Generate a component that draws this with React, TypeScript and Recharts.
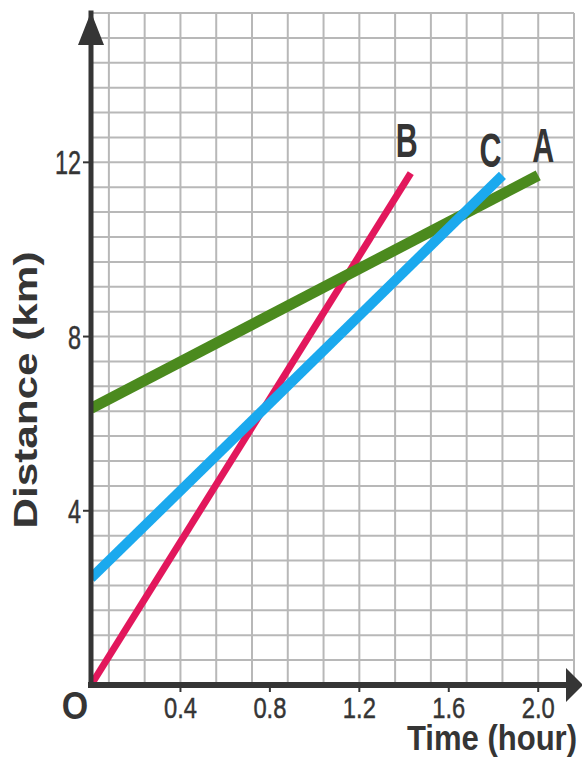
import React from "react";
import { LineChart, Line, XAxis, YAxis, CartesianGrid, ReferenceDot } from "recharts";

// values
const timeA = [0, 2.0];
const distA = [6.35, 11.7];
const timeB = [0, 1.43];
const distB = [0, 11.75];
const timeC = [0, 1.84];
const distC = [2.45, 11.7];

const xTicks = [0.4, 0.8, 1.2, 1.6, 2.0];
const yTicks = [4, 8, 12];
const X_MAX = 2.16;
const Y_MAX = 108 / 7;
// minor grid: 5 squares per 0.4 h, 7 squares per 4 km
const gridX = Array.from({ length: 28 }, (_, i) => +(i * 0.08).toFixed(2));
const gridY = Array.from({ length: 28 }, (_, i) => (i * 4) / 7);

const toRows = (ts: number[], ds: number[]) => ts.map((t, i) => ({ t, d: ds[i] }));
const rowsA = toRows(timeA, distA);
const rowsB = toRows(timeB, distB);
const rowsC = toRows(timeC, distC);

const ink = "#353535";
const font = "'Liberation Sans', Arial, sans-serif";

function StretchText({ x, y, sx = 1, sy = 1, size, bold = false, anchor = "middle", rotate = 0, children }: any) {
  return (
    <text
      transform={`translate(${x},${y}) rotate(${rotate}) scale(${sx},${sy})`}
      fontSize={size}
      fontFamily={font}
      fontWeight={bold ? 700 : 400}
      fill={ink}
      stroke={ink}
      strokeWidth={bold ? 0 : 0.4}
      textAnchor={anchor}
    >
      {children}
    </text>
  );
}

const XTick = ({ x, y, payload }: any) => (
  <StretchText x={x} y={y + 24} size={25} sx={0.95} sy={1.2}>
    {Number(payload.value).toFixed(1)}
  </StretchText>
);

const YTick = ({ x, y, payload }: any) => (
  <StretchText x={x} y={y + 12} size={26} sx={0.9} sy={1.25} anchor="end">
    {payload.value}
  </StretchText>
);

const endLabel = (name: string, last: number, dx: number, dy: number) => (p: any) =>
  p.index === last ? (
    <StretchText x={p.x + dx} y={p.y + dy} size={38} sx={0.8} sy={1.28} bold>
      {name}
    </StretchText>
  ) : null;

const upArrow = (p: any) => (
  <polygon points={`${p.cx},${p.cy - 1} ${p.cx - 13},${p.cy + 32} ${p.cx + 13},${p.cy + 32}`} fill={ink} />
);
const rightArrow = (p: any) => (
  <polygon points={`${p.cx + 9},${p.cy} ${p.cx - 8},${p.cy - 17} ${p.cx - 8},${p.cy + 17}`} fill={ink} />
);
const origin = (p: any) => (
  <StretchText x={p.cx - 16} y={p.cy + 34} size={34} sy={1.14} bold>
    O
  </StretchText>
);

export default function App() {
  return (
    <div style={{ position: "absolute", left: 0, top: 0, background: "#fff" }}>
      <LineChart width={582} height={762} margin={{ top: 13, right: 8, bottom: 47, left: 51 }}>
        <CartesianGrid
          stroke="#b8b8b8"
          strokeWidth={2}
          verticalValues={gridX}
          horizontalValues={gridY}
        />
        <XAxis
          type="number"
          dataKey="t"
          domain={[0, X_MAX]}
          allowDataOverflow
          ticks={xTicks}
          height={30}
          tickSize={7}
          tickMargin={2}
          tick={XTick}
          axisLine={{ stroke: ink, strokeWidth: 6, strokeLinecap: "square" }}
          tickLine={{ stroke: ink, strokeWidth: 2 }}
          label={(p: any) => {
            const vb = p.viewBox;
            return (
              <StretchText x={vb.x + vb.width - 82} y={vb.y + 65} size={32} sx={0.97} sy={1.08} bold>
                Time (hour)
              </StretchText>
            );
          }}
        />
        <YAxis
          type="number"
          dataKey="d"
          domain={[0, Y_MAX]}
          allowDataOverflow
          ticks={yTicks}
          width={40}
          tickSize={8}
          tickMargin={2}
          tick={YTick}
          axisLine={{ stroke: ink, strokeWidth: 5, strokeLinecap: "square" }}
          tickLine={{ stroke: ink, strokeWidth: 2 }}
          label={(p: any) => {
            const vb = p.viewBox;
            return (
              <StretchText x={vb.x - 14} y={390} size={33} sx={1.28} rotate={-90} bold>
                Distance (km)
              </StretchText>
            );
          }}
        />
        <Line
          data={rowsB}
          dataKey="d"
          type="linear"
          stroke="#e2175c"
          strokeWidth={7}
          dot={false}
          isAnimationActive={false}
          label={endLabel("B", rowsB.length - 1, -4, -16)}
        />
        <Line
          data={rowsA}
          dataKey="d"
          type="linear"
          stroke="#4b8a1e"
          strokeWidth={11}
          dot={false}
          isAnimationActive={false}
          label={endLabel("A", rowsA.length - 1, 5, -13)}
        />
        <Line
          data={rowsC}
          dataKey="d"
          type="linear"
          stroke="#1ba9ee"
          strokeWidth={10}
          dot={false}
          isAnimationActive={false}
          label={endLabel("C", rowsC.length - 1, -12, -8)}
        />
        <ReferenceDot x={0} y={Y_MAX} ifOverflow="visible" shape={upArrow} />
        <ReferenceDot x={X_MAX} y={0} ifOverflow="visible" shape={rightArrow} />
        <ReferenceDot x={0} y={0} ifOverflow="visible" shape={origin} />
      </LineChart>
    </div>
  );
}
